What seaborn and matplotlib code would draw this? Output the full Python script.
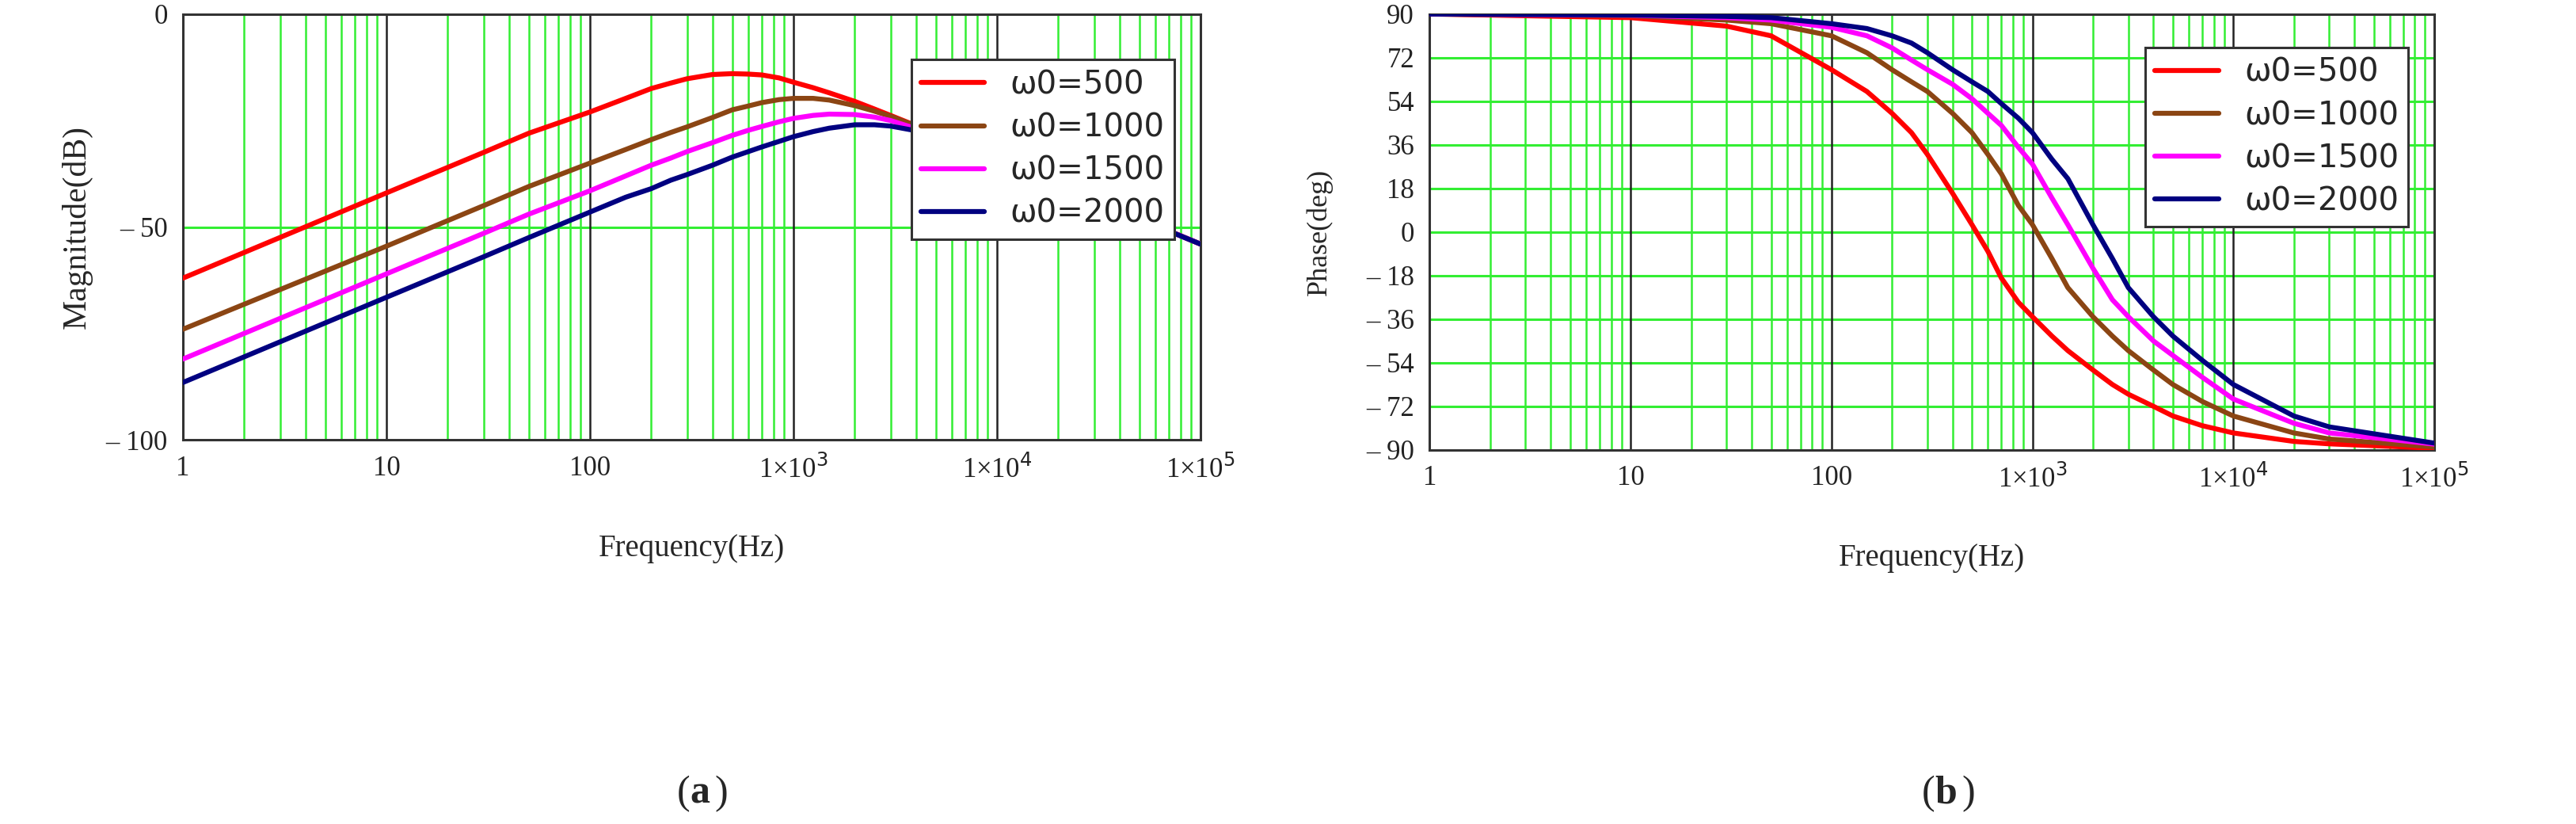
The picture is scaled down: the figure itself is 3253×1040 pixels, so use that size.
import numpy as np
import pandas as pd
import matplotlib
matplotlib.use("Agg")
import matplotlib.pyplot as plt
import seaborn as sns
from matplotlib.ticker import FixedLocator, NullFormatter

sns.set_style("white")
plt.rcParams['font.family'] = ['Liberation Serif', 'DejaVu Sans']

freq = [1, 10, 30, 50, 100, 150, 200, 250, 300, 400, 500, 600, 700, 850, 1000, 1250, 1500,
        2000, 2500, 3000, 4000, 5000, 7000, 1e4, 2e4, 3e4, 1e5]
labels = ["ω0=500", "ω0=1000", "ω0=1500", "ω0=2000"]
colors = ["#ff0000", "#8b4513", "#ff00ff", "#000080"]

# magnitude (dB)
mag_500 = [-62, -42, -32.5, -28, -23, -19.8, -17.5, -16.2, -15.2, -14.2, -14, -14.1, -14.3, -15, -16, -17.3, -18.5,
           -20.5, -22.3, -23.8, -26.2, -28, -30.9, -34, -40, -43.6, -54]
mag_1000 = [-74, -54.5, -45, -40.5, -35, -31.8, -29.5, -27.8, -26.5, -24.3, -22.5, -21.6, -20.8, -20.1, -19.8, -19.8, -20.2,
            -21.5, -22.8, -24, -26.3, -28, -31, -34, -40, -43.6, -54]
mag_1500 = [-81, -61, -51.5, -47, -41.5, -38, -35.5, -33.8, -32.3, -30.2, -28.5, -27.3, -26.4, -25.3, -24.5, -23.8, -23.5,
            -23.6, -24.2, -25, -26.9, -28.2, -31.2, -34, -40, -43.6, -54]
mag_2000 = [-86.5, -66.5, -57, -52.5, -46.5, -43, -41, -39, -37.7, -35.5, -33.6, -32.3, -31.2, -29.9, -28.8, -27.6, -26.8,
            -26, -26, -26.3, -27.4, -28.5, -31.4, -34.2, -40, -43.7, -54]

# phase (deg)
ph_500 = [90, 88.5, 85, 81, 67, 58, 49, 41, 32, 16, 3, -8, -19, -29, -35, -43, -49,
          -57, -63, -67, -72, -76, -80, -83, -86.5, -87.5, -89.3]
ph_1000 = [90, 89.3, 87.5, 86, 81, 74, 67, 62, 58, 49, 41, 32, 24, 11, 3, -11, -23,
           -35, -43, -49, -57, -63, -70, -76, -83, -85.5, -88.8]
ph_1500 = [90, 89.5, 88.5, 87.5, 84.5, 81, 76, 71, 67, 61, 55, 49, 44, 35, 28, 14, 3,
           -15, -28, -35, -45, -51, -60, -69, -79, -83, -87.6]
ph_2000 = [90, 89.6, 89, 88.5, 86, 84, 81, 78, 74, 67, 62, 58, 53, 47, 41, 30, 22,
           3, -11, -23, -35, -43, -53, -63, -76, -80.5, -87.2]

mags = [mag_500, mag_1000, mag_1500, mag_2000]
phases = [ph_500, ph_1000, ph_1500, ph_2000]

fig = plt.figure(figsize=(32.53, 10.4), dpi=100)
ax1 = fig.add_axes([0.071, 0.466, 0.395, 0.517])
ax2 = fig.add_axes([0.555, 0.454, 0.39, 0.529])

xt = [1, 10, 100, 1e3, 1e4, 1e5]
xt_lab = ["1", "10", "100", r"1×10$^{3}$", r"1×10$^{4}$", r"1×10$^{5}$"]
minors = [m * 10 ** d for d in range(5) for m in range(2, 10)]

def style(ax, ylim, yticks, ylabels, hgrid):
    ax.set_xscale("log")
    ax.set_xlim(1, 1e5)
    ax.set_ylim(*ylim)
    for m in minors:
        ax.axvline(m, color="#33ee33", lw=1.8, zorder=0)
    for d in xt[1:-1]:
        ax.axvline(d, color="#222222", lw=1.8, zorder=0.5)
    for h in hgrid:
        ax.axhline(h, color="#33ee33", lw=2.2, zorder=0)
    ax.xaxis.set_major_locator(FixedLocator(xt))
    ax.xaxis.set_minor_formatter(NullFormatter())
    ax.set_xticks(xt, xt_lab)
    ax.set_yticks(yticks, ylabels)
    ax.tick_params(which="both", length=0, labelsize=25, pad=14, colors="#222222")
    for s in ax.spines.values():
        s.set_color("#333333")
        s.set_linewidth(2.2)
    ax.set_xlabel("Frequency(Hz)", fontsize=28, labelpad=45)

for ax, data in [(ax1, mags), (ax2, phases)]:
    for vals, lab, c in zip(data, labels, colors):
        sns.lineplot(x=freq, y=vals, ax=ax, color=c, lw=4.5, label=lab, zorder=3)

style(ax1, (-100, 0), [0, -50, -100], ["0", "– 50", "– 100"], [-50])
ax1.set_ylabel("Magnitude(dB)", fontsize=30, labelpad=12)
ph_ticks = list(range(90, -91, -18))
style(ax2, (-90, 90), ph_ticks, [str(t) if t >= 0 else "– " + str(-t) for t in ph_ticks], ph_ticks[1:-1])
ax2.set_ylabel("Phase(deg)", fontsize=26, labelpad=30)

for ax, anchor in [(ax1, (0.99, 0.93)), (ax2, (0.99, 0.96))]:
    leg = ax.legend(loc="upper right", bbox_to_anchor=anchor, fontsize=29, frameon=True,
                    fancybox=False, handlelength=2.0, borderpad=0.3, labelspacing=0.35,
                    handletextpad=0.8)
    leg.get_frame().set_edgecolor("#333333")
    leg.get_frame().set_linewidth(2.2)
    leg.get_frame().set_alpha(1)
    for t in leg.get_texts():
        t.set_family(["DejaVu Sans"])

fig.text(0.268, 0.025, "(", ha="right", fontsize=36)
fig.text(0.268, 0.025, "a", ha="left", fontsize=36, fontweight="bold")
fig.text(0.2775, 0.025, ")", ha="left", fontsize=36)
fig.text(0.751, 0.025, "(", ha="right", fontsize=36)
fig.text(0.751, 0.025, "b", ha="left", fontsize=36, fontweight="bold")
fig.text(0.7615, 0.025, ")", ha="left", fontsize=36)

fig.savefig("out.png", dpi=100)
